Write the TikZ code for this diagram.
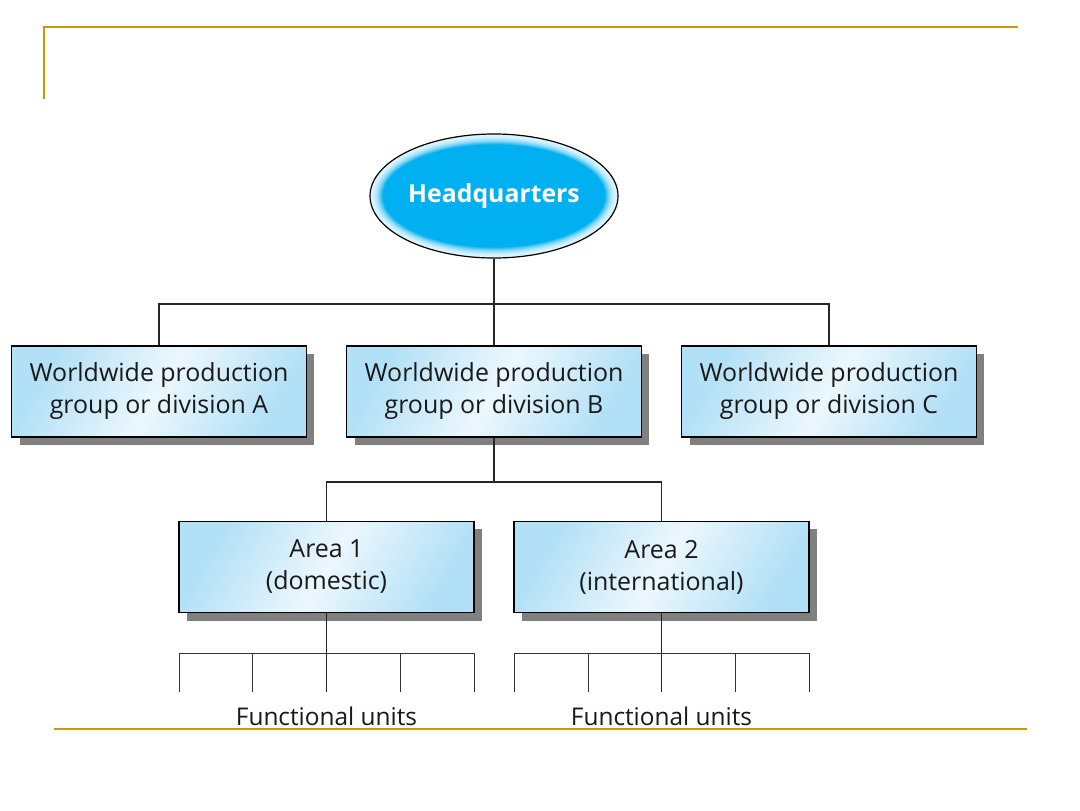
\documentclass[tikz,border=0pt]{standalone}
\usepackage{fontspec}
\setmainfont{Open Sans}
\usetikzlibrary{shapes.geometric,shadows}
\definecolor{gold}{RGB}{204,153,0}
\definecolor{hqcyan}{RGB}{0,176,240}
\definecolor{boxblue}{RGB}{178,224,246}
\definecolor{boxmid}{RGB}{236,247,253}
\tikzset{
  unitbox/.style={draw=black, line width=1.1pt, minimum width=221pt, minimum height=68.5pt,
    align=center, inner sep=0pt, font=\fontsize{18.7}{24}\selectfont, text=black!90,
    left color=boxblue, right color=boxblue, middle color=boxmid, shading angle=60,
    drop shadow={shadow xshift=6pt, shadow yshift=-6pt, fill=black!50, opacity=1}},
  hqnode/.style={ellipse, draw=black, line width=0.9pt, minimum width=186pt, minimum height=93pt,
    text=white, font=\fontsize{18.6}{22}\selectfont\bfseries, inner sep=0pt},
  link/.style={draw=black!85, line width=0.9pt},
  tick/.style={draw=black!80, line width=0.7pt},
  goldline/.style={draw=gold, line cap=rect},
  label/.style={font=\fontsize{18.3}{22}\selectfont, text=black!90, inner sep=0pt}
}
\begin{document}
\begin{tikzpicture}[x=0.75pt,y=-0.75pt]
\useasboundingbox (0,0) rectangle (1080,810);
% frame lines
\draw[goldline, line width=2.2pt] (44,27) -- (1017,27);
\draw[goldline, line width=1.5pt] (44,27) -- (44,98);
\draw[goldline, line width=1.5pt] (55,729) -- (1026,729);
% headquarters with soft glow at its rim
\coordinate (hqc) at (494,196);
\foreach \i in {0,...,14}{
  \pgfmathsetmacro{\mix}{min(100,12+\i*\i*0.45)}
  \fill[hqcyan!\mix!white] (hqc) ellipse [x radius=124-\i*0.9, y radius=62-\i*0.75];
}
\node[hqnode] (hq) at (hqc) {Headquarters};
% nodes
\node[unitbox] (A) at (159,391.5) {Worldwide production\\group or division A};
\node[unitbox] (B) at (494,391.5) {Worldwide production\\group or division B};
\node[unitbox] (C) at (829,391.5) {Worldwide production\\group or division C};
\node[unitbox] (a1) at (326.5,567) {Area 1\\(domestic)};
\node[unitbox] (a2) at (661.5,567) {Area 2\\(international)};
% connectors level 1
\coordinate (bar1) at (494,304);
\draw[link] (hq.south) -- (bar1);
\draw[link] (A.north) |- (bar1) -| (C.north);
\draw[link] (bar1) -- (B.north);
% connectors level 2
\coordinate (bar2) at (494,482);
\draw[link] (B.south) -- (bar2);
\draw[link] (a1.north) |- (bar2) -| (a2.north);
% functional units 1
\coordinate (f1c) at (326.5,653);
\coordinate (f1a) at (179,653);
\coordinate (f1b) at (252.5,653);
\coordinate (f1d) at (400.5,653);
\coordinate (f1e) at (474,653);
\draw[link] (a1.south) -- (f1c) -- ++(0,39);
\draw[tick] (f1a) -- (f1e);
\foreach \p in {f1a,f1b,f1d,f1e} \draw[tick] (\p) -- ++(0,39);
\node[label] (fu1) at (326.5,716) {Functional units};
% functional units 2
\coordinate (f2c) at (661.5,653);
\coordinate (f2a) at (514,653);
\coordinate (f2b) at (588,653);
\coordinate (f2d) at (735,653);
\coordinate (f2e) at (809,653);
\draw[link] (a2.south) -- (f2c) -- ++(0,39);
\draw[tick] (f2a) -- (f2e);
\foreach \p in {f2a,f2b,f2d,f2e} \draw[tick] (\p) -- ++(0,39);
\node[label] (fu2) at (661.5,716) {Functional units};
\end{tikzpicture}
\end{document}
